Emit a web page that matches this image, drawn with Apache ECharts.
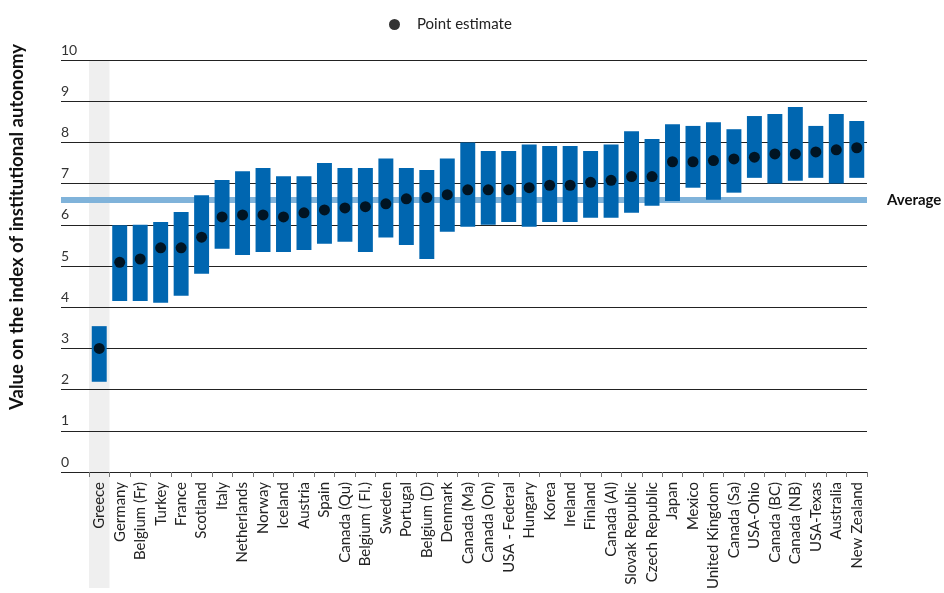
<!DOCTYPE html>
<html>
<head>
<meta charset="utf-8">
<script src="https://cdn.jsdelivr.net/npm/echarts@6/dist/echarts.min.js"></script>
<style>
  html, body { margin: 0; padding: 0; background: #fff; }
  #chart { width: 944px; height: 593px; }
</style>
</head>
<body>
<div id="chart"></div>
<script>
  var countries = [
    'Greece', 'Germany', 'Belgium (Fr)', 'Turkey', 'France', 'Scotland', 'Italy', 'Netherlands',
    'Norway', 'Iceland', 'Austria', 'Spain', 'Canada (Qu)', 'Belgium ( Fl.)', 'Sweden', 'Portugal',
    'Belgium (D)', 'Denmark', 'Canada (Ma)', 'Canada (On)', 'USA - Federal', 'Hungary', 'Korea',
    'Ireland', 'Finland', 'Canada (Al)', 'Slovak Republic', 'Czech Republic', 'Japan', 'Mexico',
    'United Kingdom', 'Canada (Sa)', 'USA-Ohio', 'Canada (BC)', 'Canada (NB)', 'USA-Texas',
    'Australia', 'New Zealand'
  ];
  var lowValues = [
    2.19, 4.15, 4.15, 4.11, 4.28, 4.81, 5.42, 5.27,
    5.34, 5.34, 5.39, 5.54, 5.59, 5.34, 5.69, 5.51,
    5.17, 5.83, 5.95, 6.00, 6.07, 5.95, 6.07,
    6.07, 6.17, 6.17, 6.29, 6.46, 6.58, 6.90,
    6.61, 6.78, 7.14, 7.00, 7.07, 7.14,
    7.00, 7.14
  ];
  var highValues = [
    3.54, 5.99, 6.00, 6.07, 6.31, 6.72, 7.09, 7.30,
    7.38, 7.18, 7.18, 7.50, 7.38, 7.38, 7.61, 7.38,
    7.33, 7.61, 8.00, 7.79, 7.79, 7.95, 7.91,
    7.91, 7.79, 7.95, 8.27, 8.08, 8.44, 8.40,
    8.49, 8.32, 8.64, 8.69, 8.86, 8.40,
    8.69, 8.52
  ];
  var pointValues = [
    3.00, 5.09, 5.17, 5.44, 5.44, 5.70, 6.19, 6.24,
    6.24, 6.19, 6.29, 6.36, 6.41, 6.44, 6.51, 6.63,
    6.66, 6.73, 6.85, 6.85, 6.85, 6.90, 6.96,
    6.96, 7.03, 7.08, 7.17, 7.17, 7.53, 7.53,
    7.56, 7.60, 7.64, 7.72, 7.72, 7.77,
    7.82, 7.87
  ];
  var averageValue = 6.61;
  var highlighted = ['Greece'];

  var rangeData = countries.map(function (c, i) {
    return [i, lowValues[i], highValues[i]];
  });
  var bandData = countries.map(function (c) {
    return highlighted.indexOf(c) >= 0 ? 1 : '-';
  });

  var font = 'Lato, "Noto Sans", sans-serif';
  var myChart = echarts.init(document.getElementById('chart'));

  var option = {
    animation: false,
    textStyle: { fontFamily: font },
    legend: {
      left: 384,
      top: 12,
      data: ['Point estimate'],
      icon: 'circle',
      itemWidth: 11,
      itemHeight: 11,
      textStyle: { fontSize: 15, color: '#222', padding: [0, 0, 0, 12] }
    },
    grid: [
      { left: 61, right: 77, top: 60, bottom: 121 },
      { left: 89, right: 77, top: 60, bottom: 121 },
      { left: 89, right: 77, top: 60, bottom: 5 }
    ],
    xAxis: [
      { gridIndex: 0, type: 'value', min: 0, max: 1, show: false },
      {
        gridIndex: 1,
        type: 'category',
        data: countries,
        z: 6,
        axisLine: { show: false },
        axisTick: { show: true, length: 5, lineStyle: { color: '#777' } },
        axisLabel: { rotate: 90, fontSize: 15, color: '#222', margin: 10, interval: 0 }
      },
      { gridIndex: 2, type: 'category', data: countries, show: false }
    ],
    yAxis: [
      {
        gridIndex: 0,
        type: 'value',
        min: 0,
        max: 10,
        interval: 1,
        z: 3,
        name: 'Value on the index of institutional autonomy',
        nameLocation: 'middle',
        nameGap: 34,
        nameTextStyle: { fontSize: 18.5, fontWeight: 'bold', color: '#111', padding: [0, 0, 0, 78] },
        axisLine: { show: false },
        axisTick: { show: false },
        axisLabel: {
          inside: true,
          margin: 0,
          verticalAlign: 'bottom',
          padding: [0, 0, 3, 0],
          fontSize: 14,
          color: '#333'
        },
        splitLine: { lineStyle: { color: '#222', width: 1 } }
      },
      { gridIndex: 1, type: 'value', min: 0, max: 10, show: false },
      { gridIndex: 2, type: 'value', min: 0, max: 1, show: false }
    ],
    series: [
      {
        name: 'band',
        type: 'bar',
        xAxisIndex: 2,
        yAxisIndex: 2,
        data: bandData,
        barWidth: '100%',
        z: 1,
        silent: true,
        itemStyle: { color: '#efefef' }
      },
      {
        name: 'average',
        type: 'line',
        xAxisIndex: 0,
        yAxisIndex: 0,
        data: [],
        z: 4,
        markLine: {
          silent: true,
          symbol: 'none',
          lineStyle: { color: '#80b3da', width: 6, type: 'solid' },
          label: {
            position: 'end',
            distance: 20,
            formatter: 'Average',
            fontSize: 15,
            fontWeight: 'bold',
            color: '#111'
          },
          data: [{ yAxis: averageValue }]
        }
      },
      {
        name: 'range',
        type: 'custom',
        xAxisIndex: 1,
        yAxisIndex: 1,
        z: 5,
        data: rangeData,
        encode: { x: 0, y: [1, 2] },
        renderItem: function (params, api) {
          var lo = api.coord([api.value(0), api.value(1)]);
          var hi = api.coord([api.value(0), api.value(2)]);
          var w = api.size([1, 0])[0] * 0.73;
          return {
            type: 'rect',
            shape: { x: lo[0] - w / 2, y: hi[1], width: w, height: lo[1] - hi[1] },
            style: { fill: '#0066b0' }
          };
        }
      },
      {
        name: 'Point estimate',
        type: 'scatter',
        xAxisIndex: 1,
        yAxisIndex: 1,
        z: 6,
        symbol: 'circle',
        symbolSize: 11,
        itemStyle: { color: '#000' },
        data: pointValues
      }
    ]
  };

  myChart.setOption(option);
</script>
</body>
</html>
